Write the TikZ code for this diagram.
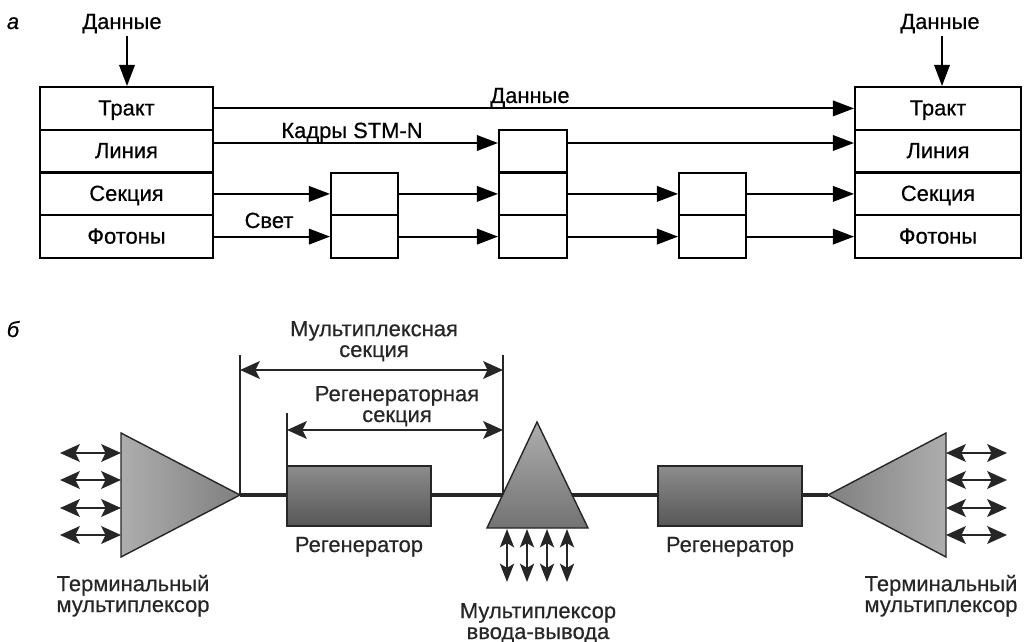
\documentclass[tikz,border=0pt]{standalone}
\usepackage{fontspec}
\setmainfont{Liberation Sans}[FakeBold=0.5]
\usetikzlibrary{arrows.meta,calc}
\newcommand{\pxu}{0.025cm}
\definecolor{ink}{HTML}{262626}
\begin{document}
\begin{tikzpicture}[x=0.025cm,y=-0.025cm,
  font=\fontsize{15.6}{14.8}\selectfont,
  lay/.style={draw, line width=1.4pt, minimum height=42.75*\pxu, inner sep=0pt, text height=10pt, text depth=0pt},
  arr/.style={line width=1.4pt, -{Triangle[length=15pt,width=11pt]}},
  lbl/.style={inner sep=0pt, anchor=base},
  lblb/.style={inner sep=0pt, anchor=base, align=center, text=ink},
  dbl/.style={draw=ink, line width=2pt, {Stealth[length=14pt,width=12.5pt,inset=3pt]}-{Stealth[length=14pt,width=12.5pt,inset=3pt]}},
  dbls/.style={draw=ink, line width=2pt, {Stealth[length=13pt,width=10pt,inset=3pt]}-{Stealth[length=13pt,width=10pt,inset=3pt]}},
  dimline/.style={draw=ink, line width=1.3pt},
  regen/.style={draw=ink, line width=1pt, top color=black!45, bottom color=black!66, minimum width=144*\pxu, minimum height=60*\pxu, inner sep=0pt},
  tri/.style={draw=ink, line width=1pt}
]
\useasboundingbox (0,0) rectangle (1025,642);

% ---------------- part a ----------------
\node[lbl, font=\fontsize{15.6}{14.8}\selectfont\itshape] (la) at (13,29) {а};

\foreach \n/\t/\y in {1/Тракт/108.4,2/Линия/151.1,3/Секция/193.9,4/Фотоны/236.6}{
  \node[lay, minimum width=173*\pxu] (L\n) at (126.5,\y) {\t};
  \node[lay, minimum width=166*\pxu] (R\n) at (938,\y) {\t};
}
\node[lay, minimum width=67*\pxu] (A1) at (364.5,193.9) {};
\node[lay, minimum width=67*\pxu] (A2) at (364.5,236.6) {};
\node[lay, minimum width=68*\pxu] (B1) at (533,151.1) {};
\node[lay, minimum width=68*\pxu] (B2) at (533,193.9) {};
\node[lay, minimum width=68*\pxu] (B3) at (533,236.6) {};
\node[lay, minimum width=67*\pxu] (C1) at (712.5,193.9) {};
\node[lay, minimum width=67*\pxu] (C2) at (712.5,236.6) {};

% top inputs
\node[lbl] (dL) at (122,29) {Данные};
\node[lbl] (dR) at (940,29) {Данные};
\coordinate (dLs) at (127,36);
\coordinate (dRs) at (942,36);
\draw[arr] (dLs) -- (dLs |- L1.north);
\draw[arr] (dRs) -- (dRs |- R1.north);

% connectors
\draw[arr] (L1.east) -- (R1.west);
\node[lbl] (dM) at (530,103) {Данные};

\coordinate (y143) at (0,143);
\draw[arr] (L2.east |- y143) -- (B1.west |- y143);
\draw[arr] (B1.east |- y143) -- (R2.west |- y143);
\node[lbl] (kadr) at (352,138) {Кадры STM-N};

\draw[arr] (L3.east) -- (A1.west);
\draw[arr] (A1.east) -- (B2.west);
\draw[arr] (B2.east) -- (C1.west);
\draw[arr] (C1.east) -- (R3.west);

\draw[arr] (L4.east) -- (A2.west);
\draw[arr] (A2.east) -- (B3.west);
\draw[arr] (B3.east) -- (C2.west);
\draw[arr] (C2.east) -- (R4.west);
\node[lbl] (svet) at (269,228) {Свет};

% ---------------- part b ----------------
\node[lbl, font=\fontsize{15.6}{14.8}\selectfont\itshape] (lb) at (13,337) {б};

\coordinate (T1a) at (121,433);
\coordinate (T1b) at (121,557);
\coordinate (T1tip) at (240,495);
\coordinate (T2a) at (946,433);
\coordinate (T2b) at (946,557);
\coordinate (T2tip) at (828,495);
\coordinate (Mtop) at (537,422);
\coordinate (Ml) at (487,528);
\coordinate (Mr) at (588,528);

% main line
\draw[ink, line width=2.8pt] (T1tip) -- (T2tip);

% terminal multiplexers
\shade[tri, left color=black!32, right color=black!50] (T1a) -- (T1tip) -- (T1b) -- cycle;
\shade[tri, right color=black!32, left color=black!50] (T2a) -- (T2tip) -- (T2b) -- cycle;
% add-drop multiplexer
\shade[tri, top color=black!32, bottom color=black!55] (Mtop) -- (Mr) -- (Ml) -- cycle;

% regenerators
\node[regen] (G1) at (359,496) {};
\node[regen] (G2) at (730,496) {};

% tributary arrows
\foreach \i/\y in {1/453,2/480,3/508,4/535}{
  \coordinate (tl\i) at (60,\y);
  \coordinate (tlr\i) at (121,\y);
  \coordinate (tr\i) at (946,\y);
  \coordinate (trr\i) at (1007,\y);
  \draw[dbl] (tl\i) -- (tlr\i);
  \draw[dbl] (tr\i) -- (trr\i);
}
\foreach \i/\x in {1/507,2/527,3/547,4/567}{
  \coordinate (ad\i) at (\x,529);
  \coordinate (adb\i) at (\x,582);
  \draw[dbls] (ad\i) -- (adb\i);
}

% dimension lines
\coordinate (msL) at (240,355);
\coordinate (msR) at (503,355);
\coordinate (msRb) at (503,495);
\coordinate (rsL) at (287,413);
\draw[dimline] (msL) -- (T1tip);
\draw[dimline] (msR) -- (msRb);
\draw[dimline] (rsL) -- (rsL |- G1.north);
\coordinate (ma) at (240,370);
\coordinate (mb) at (503,370);
\coordinate (ra) at (287,430);
\coordinate (rb) at (503,430);
\draw[dbl] (ma) -- (mb);
\draw[dbl] (ra) -- (rb);

% labels (anchor base = baseline of the last line)
\node[lblb] (msec) at (374,357) {Мультиплексная\\секция};
\node[lblb] (rsec) at (397,422) {Регенераторная\\секция};
\node[lblb] (g1l) at (359,552) {Регенератор};
\node[lblb] (g2l) at (730,552) {Регенератор};
\node[lblb] (t1l) at (133,612) {Терминальный\\мультиплексор};
\node[lblb] (t2l) at (941,612) {Терминальный\\мультиплексор};
\node[lblb] (adml) at (538,639) {Мультиплексор\\ввода-вывода};
\end{tikzpicture}
\end{document}
